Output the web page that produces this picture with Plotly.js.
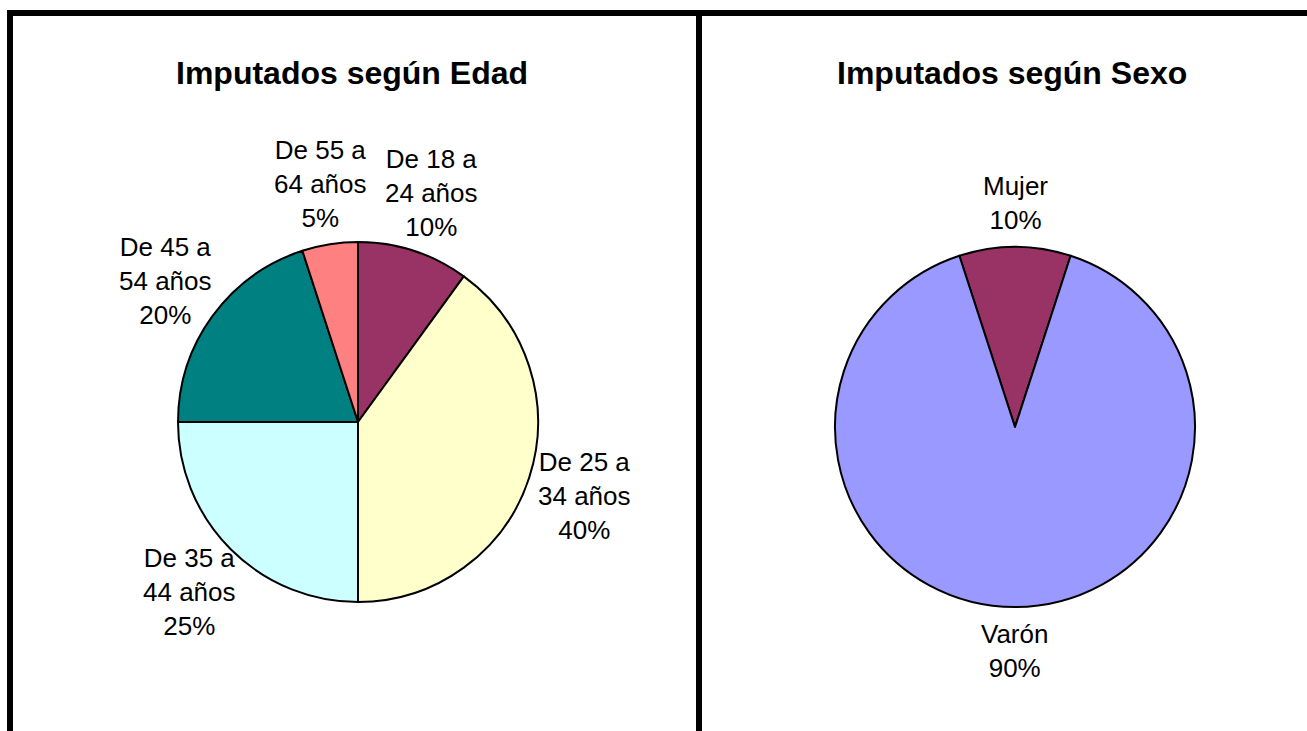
<!DOCTYPE html>
<html>
<head>
<meta charset="utf-8">
<script src="https://cdn.plot.ly/plotly-3.0.1.min.js"></script>
<style>
html,body{margin:0;padding:0;background:#fff;}
#chart{width:1307px;height:731px;}
</style>
</head>
<body>
<div id="chart"></div>
<script>
// ---- Data ----
const edadTitle = 'Imputados según Edad';
const edadCategories = ['De 18 a 24 años', 'De 25 a 34 años', 'De 35 a 44 años', 'De 45 a 54 años', 'De 55 a 64 años'];
const edadValues = [10, 40, 25, 20, 5];
const edadColors = ['#993366', '#FFFFCC', '#CCFFFF', '#008080', '#FF8080'];

const sexoTitle = 'Imputados según Sexo';
const sexoCategories = ['Mujer', 'Varón'];
const sexoValues = [10, 90];
const sexoColors = ['#993366', '#9999FF'];

// ---- Layout helpers ----
const W = 1307, H = 731;
const px = x => x / W;
const py = y => 1 - y / H;
const FONT = 'Liberation Sans, Arial, sans-serif';
const LABEL_SIZE = 26;

const wrap = s => s.replace(/ a (\d)/, ' a<br>$1');

const pies = [
  {title: edadTitle, labels: edadCategories, values: edadValues, colors: edadColors,
   rotation: 0, box: [178, 242, 538, 602], titleX: 352},
  {title: sexoTitle, labels: sexoCategories, values: sexoValues, colors: sexoColors,
   rotation: -18, box: [835, 247, 1195, 607], titleX: 1012}
];

const traces = [];
const annotations = [];

pies.forEach(p => {
  const [bx0, by0, bx1, by1] = p.box;
  traces.push({
    type: 'pie',
    labels: p.labels,
    values: p.values,
    sort: false,
    direction: 'clockwise',
    rotation: p.rotation,
    textinfo: 'none',
    hoverinfo: 'none',
    showlegend: false,
    marker: {colors: p.colors, line: {color: '#000', width: 2}},
    domain: {x: [px(bx0), px(bx1)], y: [py(by1), py(by0)]}
  });

  annotations.push({
    text: '<b>' + p.title + '</b>', x: px(p.titleX), y: py(73), xref: 'paper', yref: 'paper',
    xanchor: 'center', yanchor: 'middle', showarrow: false,
    font: {family: FONT, size: 32, color: '#000'}
  });

  // outside-end data labels, placed from each slice's mid angle
  const cx = (bx0 + bx1) / 2, cy = (by0 + by1) / 2;
  const r = Math.min(bx1 - bx0, by1 - by0) / 2;
  const total = p.values.reduce((a, b) => a + b, 0);
  let cum = 0;
  p.values.forEach((v, i) => {
    const theta = (p.rotation + (cum + v / 2) / total * 360) * Math.PI / 180;
    cum += v;
    const ux = Math.sin(theta), uy = -Math.cos(theta);
    const text = wrap(p.labels[i]) + '<br>' + Math.round(v / total * 100) + '%';
    const nLines = text.split('<br>').length;
    const hh = nLines * LABEL_SIZE * 1.3 / 2;
    const hw = 48;
    const pad = 10;
    const lx = cx + (r + pad) * ux + hw * ux;
    const ly = cy + (r + pad) * uy + hh * uy;
    annotations.push({
      text: text, x: px(lx), y: py(ly), xref: 'paper', yref: 'paper',
      xanchor: 'center', yanchor: 'middle', align: 'center', showarrow: false,
      font: {family: FONT, size: LABEL_SIZE, color: '#000'}
    });
  });
});

const layout = {
  width: W, height: H,
  margin: {l: 0, r: 0, t: 0, b: 0},
  paper_bgcolor: '#fff',
  plot_bgcolor: '#fff',
  font: {family: FONT, color: '#000'},
  annotations: annotations,
  shapes: [
    {type: 'line', xref: 'paper', yref: 'paper', x0: px(7), x1: 1, y0: py(13), y1: py(13), line: {color: '#000', width: 6}},
    {type: 'line', xref: 'paper', yref: 'paper', x0: px(10), x1: px(10), y0: py(10), y1: 0, line: {color: '#000', width: 6}},
    {type: 'line', xref: 'paper', yref: 'paper', x0: px(699), x1: px(699), y0: py(10), y1: 0, line: {color: '#000', width: 6}}
  ]
};

Plotly.newPlot('chart', traces, layout, {displayModeBar: false, staticPlot: true});
</script>
</body>
</html>
